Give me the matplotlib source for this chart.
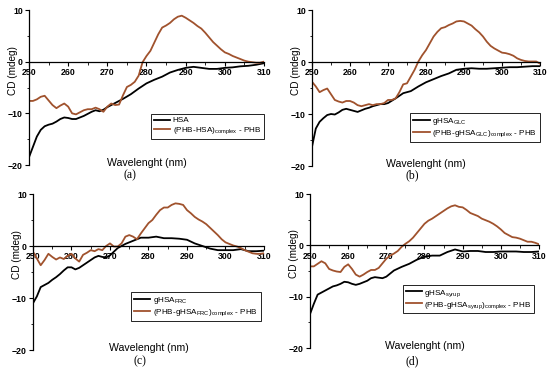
import numpy as np
import matplotlib.pyplot as plt

plt.rcParams['font.family'] = ['Liberation Sans', 'DejaVu Sans']
plt.rcParams['mathtext.fontset'] = 'custom'
plt.rcParams['mathtext.rm'] = 'Liberation Sans'
plt.rcParams['mathtext.it'] = 'Liberation Sans'

# wavelengths (nm)
wl_full = list(range(250, 311))
wl_black = list(range(250, 271)) + list(range(272, 311, 2))

# (a) HSA
a_hsa = [-18.5, -16.5, -14.5, -13.2, -12.5, -12.2, -12.0, -11.6, -11.1, -10.8,
         -10.9, -11.1, -11.1, -10.8, -10.5, -10.1, -9.7, -9.4, -9.6, -9.3, -8.8,
         -8.0, -7.2, -6.3, -5.2, -4.2, -3.5, -2.9, -2.1, -1.6, -1.2,
         -1.0, -1.2, -1.4, -1.4, -1.2, -1.1, -0.9, -0.8, -0.6, -0.3]
a_cpx = [-7.6, -7.6, -7.3, -6.8, -6.6, -7.5, -8.4, -9.0, -8.5, -8.1,
         -8.7, -10.0, -10.2, -9.8, -9.4, -9.2, -9.2, -8.9, -9.2, -9.7,
         -8.7, -8.1, -8.4, -8.3, -6.5, -4.9, -4.5, -3.9, -2.7, -0.1,
         1.1, 2.1, 3.7, 5.3, 6.6, 7.0, 7.5, 8.2, 8.7, 8.9,
         8.5, 8.0, 7.5, 6.9, 6.4, 5.6, 4.7, 3.8, 3.1, 2.4,
         1.8, 1.5, 1.1, 0.8, 0.5, 0.2, 0.0, -0.1, -0.2, -0.2, 0.0]

# (b) gHSA GLC
b_hsa = [-16.3, -12.8, -11.5, -10.8, -10.2, -10.0, -10.1, -9.7, -9.2, -9.0,
         -9.2, -9.4, -9.6, -9.3, -9.0, -8.8, -8.5, -8.3, -8.1, -8.1, -7.9,
         -7.0, -6.0, -5.6, -4.7, -3.9, -3.3, -2.7, -2.2, -1.5, -1.3,
         -1.2, -1.3, -1.3, -1.2, -1.1, -1.0, -1.0, -0.9, -0.8, -0.8]
b_cpx = [-3.8, -4.7, -5.8, -5.4, -5.1, -6.2, -7.3, -7.6, -7.8, -7.5,
         -7.5, -7.8, -8.3, -8.5, -8.3, -8.1, -8.3, -8.1, -8.1, -7.9,
         -7.3, -7.3, -7.0, -5.8, -4.3, -4.1, -2.8, -1.5, 0.1, 1.3,
         2.3, 3.6, 4.9, 5.8, 6.5, 6.7, 7.1, 7.4, 7.8, 7.9,
         7.8, 7.4, 7.0, 6.3, 5.7, 4.9, 3.9, 3.1, 2.6, 2.2,
         1.8, 1.7, 1.5, 1.2, 0.7, 0.4, 0.2, 0.1, 0.1, 0.1, -0.3]

# (c) gHSA FRC
c_hsa = [-11.0, -9.7, -7.9, -7.5, -7.1, -6.5, -6.0, -5.4, -4.7, -4.1,
         -4.1, -4.5, -4.2, -3.7, -3.2, -2.7, -2.2, -1.9, -2.1, -2.2, -1.8,
         -0.4, 0.4, 1.0, 1.6, 1.6, 1.8, 1.5, 1.5, 1.4, 1.2,
         0.5, 0.0, -0.5, -0.8, -0.8, -0.8, -0.6, -1.0, -1.0, -0.9]
c_cpx = [-1.1, -2.4, -3.7, -2.7, -1.5, -2.1, -2.6, -2.2, -2.5, -1.9,
         -1.5, -2.4, -3.0, -1.7, -1.3, -0.8, -1.0, -0.6, -0.8, 0.0,
         0.5, -0.1, -0.1, 0.5, 1.8, 2.1, 1.8, 1.3, 2.4, 3.4,
         4.4, 5.0, 6.0, 6.9, 7.4, 7.4, 7.9, 8.2, 8.1, 7.9,
         6.9, 6.3, 5.6, 5.1, 4.7, 4.2, 3.5, 2.8, 2.1, 1.3,
         0.7, 0.4, 0.1, -0.1, -0.4, -0.8, -1.1, -1.4, -1.5, -1.5, -1.4]

# (d) gHSA syrup
d_hsa = [-13.4, -11.4, -9.6, -9.2, -8.8, -8.4, -8.0, -7.8, -7.5, -7.1,
         -7.2, -7.5, -7.7, -7.5, -7.2, -6.9, -6.4, -6.2, -6.3, -6.4, -6.1,
         -4.9, -4.2, -3.6, -2.8, -2.2, -2.0, -2.0, -1.3, -0.8, -1.2,
         -1.1, -1.1, -1.3, -1.3, -1.2, -1.2, -1.2, -1.3, -1.3, -1.2]
d_cpx = [-4.1, -4.1, -3.6, -3.1, -3.5, -4.6, -4.9, -5.1, -5.2, -4.2,
         -3.7, -4.6, -5.7, -6.1, -5.7, -5.2, -4.8, -4.8, -4.4, -3.5,
         -2.6, -2.0, -1.6, -1.1, -0.3, 0.3, 0.8, 1.5, 2.4, 3.3,
         4.2, 4.8, 5.2, 5.7, 6.2, 6.7, 7.2, 7.6, 7.8, 7.5,
         7.4, 6.9, 6.3, 6.0, 5.7, 5.2, 4.9, 4.6, 4.2, 3.7,
         3.1, 2.4, 2.0, 1.6, 1.5, 1.3, 1.0, 0.7, 0.7, 0.5, 0.2]

labels_hsa = ['HSA', r'gHSA$_{\rm GLC}$', r'gHSA$_{\rm FRC}$', r'gHSA$_{\rm syrup}$']
labels_cpx = [r'(PHB-HSA)$_{\rm complex}$ - PHB',
              r'(PHB-gHSA$_{\rm GLC}$)$_{\rm complex}$ - PHB',
              r'(PHB-gHSA$_{\rm FRC}$)$_{\rm complex}$ - PHB',
              r'(PHB-gHSA$_{\rm syrup}$)$_{\rm complex}$ - PHB']
panel_tags = ['(a)', '(b)', '(c)', '(d)']

W, H = 550, 377
# axes boxes in pixels: left, top(y=10), right, bottom(y=-20)
boxes = [(29, 10, 264, 165), (312, 10, 540, 166),
         (33, 194, 264, 350), (310, 194, 539, 348)]
leg_anchor = [(1.0, 0.33), (1.0, 0.34), (0.985, 0.37), (0.98, 0.41)]
tag_pos = [(130, 175), (412, 175), (140, 361), (412, 361)]

fig = plt.figure(figsize=(W / 100, H / 100), dpi=100)

series = [(a_hsa, a_cpx), (b_hsa, b_cpx), (c_hsa, c_cpx), (d_hsa, d_cpx)]
for i, (hsa, cpx) in enumerate(series):
    l, t, r, b = boxes[i]
    ax = fig.add_axes([l / W, 1 - b / H, (r - l) / W, (b - t) / H])
    ax.plot(wl_black, hsa, color='black', lw=1.3, label=labels_hsa[i])
    ax.plot(wl_full, cpx, color='#a0522d', lw=1.3, label=labels_cpx[i])
    ax.set_xlim(250, 310)
    ax.set_ylim(-20, 10)
    ax.spines['top'].set_visible(False)
    ax.spines['right'].set_visible(False)
    ax.spines['bottom'].set_position(('data', 0))
    ax.spines['left'].set_linewidth(0.9)
    ax.spines['bottom'].set_linewidth(0.9)
    ax.set_xticks(range(250, 311, 10))
    ax.set_yticks([-20, -10, 0, 10])
    ax.set_yticks([-15, -5, 5], minor=True)
    ax.set_xticks(range(255, 310, 10), minor=True)
    ax.tick_params(axis='both', which='major', length=3, width=0.8, pad=1.5,
                   labelsize=6.3)
    ax.tick_params(axis='both', which='minor', length=1.8, width=0.6)
    for lab in ax.get_xticklabels() + ax.get_yticklabels():
        lab.set_fontweight('bold')
    ax.set_ylabel('CD (mdeg)', fontsize=7.2)
    ax.yaxis.set_label_coords(-0.048, 0.61)
    ax.set_xlabel('Wavelenght (nm)', fontsize=7.6, va='center')
    ax.xaxis.set_label_coords(0.5, 0.012)
    ax.legend(loc='upper right', bbox_to_anchor=leg_anchor[i], fontsize=5.9,
              frameon=True, fancybox=False, edgecolor='black', framealpha=1,
              handlelength=2.0, borderpad=0.35, labelspacing=0.15,
              handletextpad=0.3, borderaxespad=0)
    ax.get_legend().get_frame().set_linewidth(0.6)
    fig.text(tag_pos[i][0] / W, 1 - tag_pos[i][1] / H, panel_tags[i],
             ha='center', va='center', fontsize=8.5,
             family=['Liberation Serif', 'DejaVu Serif'])

fig.savefig('out.png', dpi=100)
